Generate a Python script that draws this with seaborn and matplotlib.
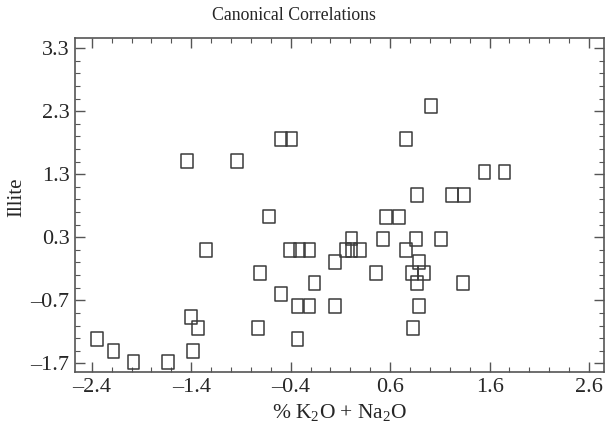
import matplotlib
matplotlib.use("Agg")
import matplotlib.pyplot as plt
from matplotlib.path import Path
from matplotlib.ticker import FixedLocator
import numpy as np
import pandas as pd
import seaborn as sns

# canonical variates
k2o_na2o = [
    -2.35, -2.18, -1.98, -1.63, -1.40, -1.33, -1.38, -1.25, -1.44, -0.94,
    -0.50, -0.39, -0.62, -0.71, -0.50, -0.73, -0.41, -0.31, -0.21, -0.16,
    -0.33, -0.21, 0.045, 0.045, -0.33, 0.15, 0.21, 0.30, 0.21, 0.76,
    0.86, 0.89, 0.82, 0.94, 0.87, 0.89, 0.83, 0.87, 1.11, 1.33,
    0.46, 0.53, 0.56, 0.69, 0.76, 1.01, 1.22, 1.34, 1.55, 1.75,
]
illite = [
    -1.32, -1.50, -1.68, -1.68, -0.96, -1.14, -1.50, 0.10, 1.51, 1.51,
    1.86, 1.86, 0.63, -0.26, -0.60, -1.14, 0.10, 0.10, 0.10, -0.43,
    -0.79, -0.79, -0.79, -0.09, -1.32, 0.10, 0.10, 0.10, 0.28, 0.10,
    0.27, -0.09, -0.26, -0.26, -0.43, -0.79, -1.14, 0.97, 0.27, -0.43,
    -0.26, 0.27, 0.62, 0.62, 1.86, 2.38, 0.97, 0.97, 1.33, 1.33,
]

x_ticks = [-2.4, -1.4, -0.4, 0.6, 1.6, 2.6]
y_ticks = [-1.7, -0.7, 0.3, 1.3, 2.3, 3.3]

df = pd.DataFrame({"x": k2o_na2o, "y": illite})

sns.set_style("ticks")
plt.rcParams["font.family"] = ["Liberation Serif", "DejaVu Serif"]
plt.rcParams["mathtext.fontset"] = "custom"
plt.rcParams["mathtext.rm"] = "Liberation Serif"
plt.rcParams["mathtext.it"] = "Liberation Serif:italic"

# slightly tall open box marker
box = Path(
    [(-0.42, -0.5), (0.42, -0.5), (0.42, 0.5), (-0.42, 0.5), (-0.42, -0.5)],
    [Path.MOVETO, Path.LINETO, Path.LINETO, Path.LINETO, Path.CLOSEPOLY],
)

fig = plt.figure(figsize=(6.05, 4.28), dpi=100)
ax = fig.add_axes([0.124, 0.130, 0.874, 0.781])

sns.scatterplot(
    data=df, x="x", y="y", marker=box, s=100,
    facecolor="none", edgecolor="#3a3a3a", linewidth=1.1, ax=ax,
)

ax.set_xlim(-2.568, 2.748)
ax.set_ylim(-1.843, 3.459)
ax.xaxis.set_major_locator(FixedLocator(x_ticks))
ax.yaxis.set_major_locator(FixedLocator(y_ticks))
ax.xaxis.set_minor_locator(FixedLocator(np.round(np.arange(-2.4, 2.75, 0.2), 2)))
ax.yaxis.set_minor_locator(FixedLocator(np.round(np.arange(-1.7, 3.4, 0.2), 2)))
ax.set_xticklabels([f"{v:.1f}".replace("-", "\u2013") for v in x_ticks])
ax.set_yticklabels([f"{v:.1f}".replace("-", "\u2013") for v in y_ticks])

ax.tick_params(which="major", direction="in", length=7, width=1.0, color="#555555",
               top=True, right=True, labelsize=16, pad=4)
ax.tick_params(which="minor", direction="in", length=3.5, width=0.8, color="#555555",
               top=True, right=True)
for sp in ax.spines.values():
    sp.set_color("#555555")
    sp.set_linewidth(1.2)

fig.text(294 / 605, 1 - 16 / 428, "Canonical Correlations", fontsize=12.8,
         ha="center", va="center")
ax.set_xlabel("% K$_2$O + Na$_2$O", fontsize=15.5)
ax.set_ylabel("Illite", fontsize=15)
ax.xaxis.set_label_coords(0.5, -0.088)
ax.yaxis.set_label_coords(-0.092, 0.525)

fig.savefig("out.png", dpi=100)
